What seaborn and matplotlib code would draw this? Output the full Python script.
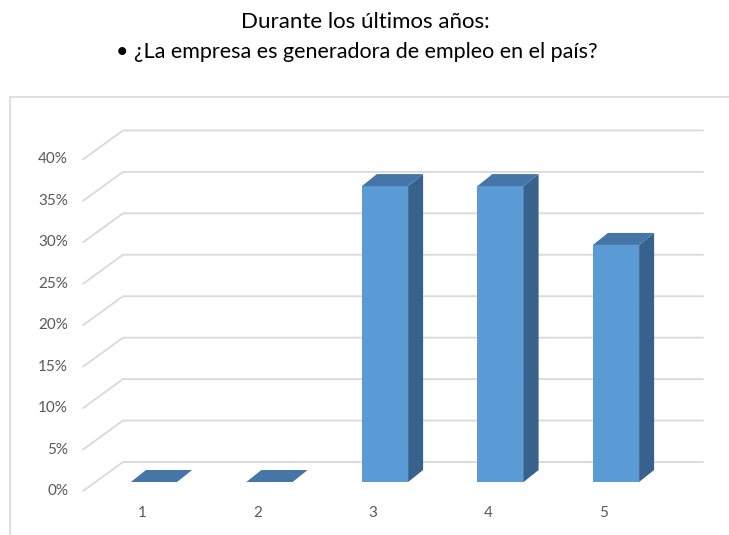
import numpy as np
import pandas as pd
import matplotlib
matplotlib.use("Agg")
import matplotlib.pyplot as plt
import seaborn as sns
from matplotlib.patches import Polygon, Rectangle
from matplotlib.lines import Line2D

# ---- data ----
categories = ["1", "2", "3", "4", "5"]
values = [0.0, 0.0, 0.357, 0.357, 0.286]
tick_values = [0.00, 0.05, 0.10, 0.15, 0.20, 0.25, 0.30, 0.35, 0.40]
tick_labels = ["0%", "5%", "10%", "15%", "20%", "25%", "30%", "35%", "40%"]
title_line1 = "Durante los últimos años:"
title_line2 = "• ¿La empresa es generadora de empleo en el país?"

FRONT = "#5B9BD5"
TOP = "#4676A8"
SIDE = "#37628B"
GRID = "#D9D9D9"
LABEL = "#595959"

W, H = 729, 535
sns.set_theme(style="white")
plt.rcParams["font.family"] = ["Lato", "DejaVu Sans"]

fig = plt.figure(figsize=(W / 100, H / 100), dpi=100)
ax = fig.add_axes([0, 0, 1, 1])
df = pd.DataFrame({"cat": categories, "val": values})
sns.barplot(data=df, x="cat", y="val", color=FRONT, saturation=1, width=0.4,
            ax=ax, edgecolor="none", linewidth=0, zorder=3)

# map category index / value onto the picture
x0px, dxpx = 154.0, 115.5
base_py, ppv = 482.0, 828.9
ax.set_xlim(-x0px / dxpx, (W - x0px) / dxpx)
ax.set_ylim((base_py - H) / ppv, base_py / ppv)
ax.axis("off")
fig.canvas.draw()

def to_fig(pts):
    return [(x / W, y / H) for x, y in pts]

def disp(x, y):
    return ax.transData.transform((x, y))

# depth offsets (display pixels, y up)
BAR_D = (15.0, 12.0)
FRONT_OFF = (-12.0, -9.0)
BACK_OFF = (28.0, 20.0)
wall_left_front = 83.0
wall_left_back = 123.0
wall_right = 703.0

# gridlines on back wall with diagonal to the front
for v, lab in zip(tick_values, tick_labels):
    yb = disp(0, v)[1]
    pts = [(wall_left_front, yb + FRONT_OFF[1]),
           (wall_left_back, yb + BACK_OFF[1]),
           (wall_right, yb + BACK_OFF[1])]
    xs, ys = zip(*to_fig(pts))
    ax.add_line(Line2D(xs, ys, transform=fig.transFigure, color=GRID,
                       lw=1.3, zorder=1, clip_on=False))
    fig.text(68 / W, (yb + FRONT_OFF[1]) / H, lab, ha="right", va="center",
             fontsize=11, color=LABEL)

# 3D faces for each bar
for i, p in enumerate(ax.patches):
    bx, by = p.get_x(), p.get_y()
    bw, bh = p.get_width(), p.get_height()
    xl, yb = disp(bx, by)
    xr, yt = disp(bx + bw, by + bh)
    dx, dy = BAR_D
    top = [(xl, yt), (xr, yt), (xr + dx, yt + dy), (xl + dx, yt + dy)]
    side = [(xr, yb), (xr + dx, yb + dy), (xr + dx, yt + dy), (xr, yt)]
    ax.add_patch(Polygon(to_fig(side), closed=True, transform=fig.transFigure,
                         facecolor=SIDE, edgecolor="none", zorder=3, clip_on=False))
    ax.add_patch(Polygon(to_fig(top), closed=True, transform=fig.transFigure,
                         facecolor=TOP, edgecolor="none", zorder=3, clip_on=False))
    cx = (xl + xr) / 2 + FRONT_OFF[0]
    fig.text(cx / W, (yb + FRONT_OFF[1] - 22) / H, categories[i],
             ha="center", va="center", fontsize=11, color=LABEL)

# chart frame
ax.add_patch(Rectangle((10 / W, -0.05), 1.2, 1 - 97 / H + 0.05,
                       transform=fig.transFigure, fill=False, edgecolor=GRID,
                       lw=1.2, zorder=0, clip_on=False))

fig.text(365 / W, 1 - 22 / H, title_line1, ha="center", va="center",
         fontsize=16, color="#000000")
fig.text(357 / W, 1 - 52 / H, title_line2, ha="center", va="center",
         fontsize=15.5, color="#000000")

fig.savefig("out.png", dpi=100)
